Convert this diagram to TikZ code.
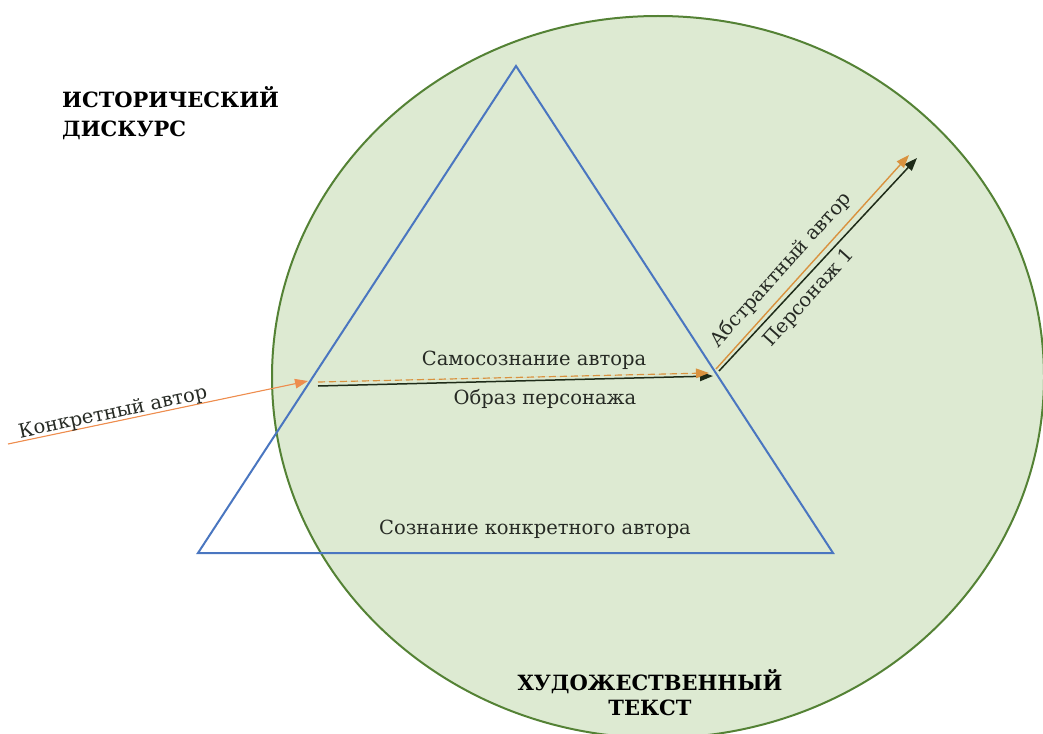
\documentclass[tikz,border=0pt]{standalone}
\usepackage{fontspec}
\setmainfont{DejaVu Serif}
\usetikzlibrary{arrows.meta}
\definecolor{fieldgreen}{HTML}{DDEAD2}
\definecolor{rimgreen}{HTML}{548235}
\definecolor{prismblue}{HTML}{4A76C0}
\definecolor{rayorange}{HTML}{EE8D4E}
\definecolor{raytan}{HTML}{D9923F}
\definecolor{raydark}{HTML}{1E2B18}
\definecolor{inkdark}{HTML}{262A24}
\tikzset{
  rayhead/.style={-{Triangle[length=13pt,width=9.5pt]}},
  orangeray/.style={rayhead, draw=rayorange, fill=rayorange, line width=1.1pt},
  dashray/.style={rayhead, draw=raytan, fill=raytan, dash pattern=on 7pt off 4pt, line width=1.2pt},
  tanray/.style={rayhead, draw=raytan, fill=raytan, line width=1.4pt},
  darkray/.style={rayhead, draw=raydark, fill=raydark, line width=1.5pt},
  caption/.style={font=\fontsize{19.5}{22}\selectfont, text=inkdark, inner sep=0pt},
  heading/.style={font=\fontsize{21}{25}\selectfont\bfseries, text=black, inner sep=0pt},
}
\begin{document}
\begin{tikzpicture}[x=1pt,y=-1pt]
\useasboundingbox (0,0) rectangle (1043,733);
\clip (0,0) rectangle (1043,733);

% field of the literary text
\draw[fill=fieldgreen, draw=rimgreen, line width=2pt]
  (658,377) ellipse [x radius=386, y radius=361];

% prism of consciousness
\coordinate (apex) at (516,66);
\coordinate (baseL) at (198,553);
\coordinate (baseR) at (833,553);
\draw[prismblue, line width=2pt, line join=miter] (apex) -- (baseL) -- (baseR) -- cycle;

% ray points
\coordinate (srcA) at (8,444);
\coordinate (entA) at (308,381);
\coordinate (inO) at (318,382);
\coordinate (outO) at (709,373);
\coordinate (inD) at (318,386);
\coordinate (outD) at (713,376);
\coordinate (exO) at (716,369);
\coordinate (tipO) at (909,155);
\coordinate (exD) at (719,371);
\coordinate (tipD) at (917,158);

\draw[orangeray] (srcA) -- (entA);
\draw[darkray] (inD) -- (outD);
\draw[dashray] (inO) -- (outO);
\draw[darkray] (exD) -- (tipD);
\draw[tanray] (exO) -- (tipO);

% labels
\node[caption, rotate=12] (lConcrete) at (113,413) {Конкретный автор};
\node[caption, anchor=base] (lSelf) at (534,365) {Самосознание автора};
\node[caption, anchor=base] (lImage) at (545,404) {Образ персонажа};
\node[caption, anchor=base] (lCons) at (535,534) {Сознание конкретного автора};
\node[caption, rotate=48] (lAbstract) at (781,270) {Абстрактный автор};
\node[caption, rotate=48] (lChar) at (809,298) {Персонаж 1};

\node[heading, anchor=base west] (hHist1) at (62,108) {ИСТОРИЧЕСКИЙ};
\node[heading, anchor=base west] (hHist2) at (62,136) {ДИСКУРС};
\node[heading, anchor=base] (hArt1) at (650,690) {ХУДОЖЕСТВЕННЫЙ};
\node[heading, anchor=base] (hArt2) at (650,715) {ТЕКСТ};
\end{tikzpicture}
\end{document}
